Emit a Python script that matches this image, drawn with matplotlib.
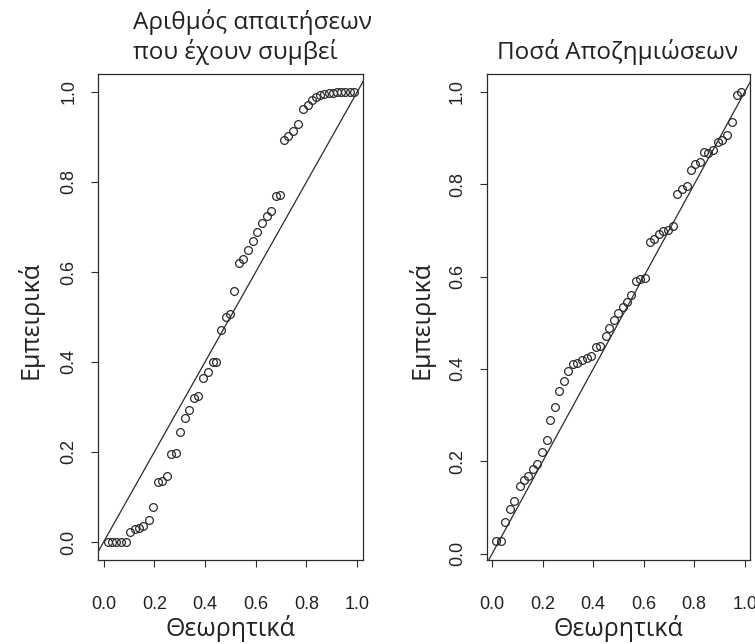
import matplotlib
matplotlib.use("Agg")
import matplotlib.pyplot as plt
from matplotlib import font_manager

avail = {f.name for f in font_manager.fontManager.ttflist}
text_font = ["Open Sans", "DejaVu Sans"]
tick_font = [f for f in ["Liberation Sans Narrow", "Liberation Sans", "DejaVu Sans"] if f in avail] or ["DejaVu Sans"]

# Left panel: number of claims
claims_theor = [0.017, 0.034, 0.050, 0.067, 0.087, 0.105, 0.123, 0.140, 0.156, 0.178,
                0.195, 0.215, 0.232, 0.250, 0.267, 0.285, 0.300, 0.320, 0.337, 0.357,
                0.373, 0.393, 0.410, 0.430, 0.445, 0.462, 0.482, 0.498, 0.515, 0.535,
                0.551, 0.570, 0.588, 0.606, 0.623, 0.643, 0.660, 0.680, 0.696, 0.711,
                0.729, 0.746, 0.766, 0.788, 0.805, 0.821, 0.838, 0.854, 0.871, 0.887,
                0.904, 0.920, 0.937, 0.953, 0.970, 0.986]
claims_emp = [0.000, 0.000, 0.000, 0.000, 0.000, 0.023, 0.028, 0.032, 0.036, 0.050,
              0.078, 0.134, 0.136, 0.147, 0.196, 0.198, 0.244, 0.275, 0.293, 0.319,
              0.324, 0.365, 0.377, 0.400, 0.400, 0.471, 0.500, 0.506, 0.557, 0.619,
              0.628, 0.648, 0.670, 0.689, 0.710, 0.725, 0.735, 0.768, 0.772, 0.893,
              0.903, 0.913, 0.930, 0.962, 0.972, 0.982, 0.990, 0.994, 0.996, 0.997,
              0.998, 0.999, 1.000, 1.000, 1.000, 1.000]

# Right panel: compensation amounts
amount_theor = [0.014, 0.034, 0.051, 0.070, 0.087, 0.108, 0.126, 0.143, 0.160, 0.178,
                0.197, 0.215, 0.230, 0.250, 0.266, 0.286, 0.302, 0.320, 0.337, 0.356,
                0.375, 0.392, 0.411, 0.428, 0.449, 0.464, 0.483, 0.500, 0.517, 0.533,
                0.549, 0.568, 0.585, 0.605, 0.624, 0.642, 0.660, 0.678, 0.697, 0.717,
                0.733, 0.751, 0.770, 0.786, 0.803, 0.821, 0.839, 0.856, 0.874, 0.893,
                0.912, 0.931, 0.950, 0.968, 0.986]
amount_emp = [0.027, 0.027, 0.069, 0.096, 0.114, 0.147, 0.160, 0.168, 0.184, 0.195,
              0.219, 0.246, 0.289, 0.318, 0.352, 0.374, 0.395, 0.411, 0.413, 0.420,
              0.424, 0.428, 0.447, 0.450, 0.471, 0.489, 0.507, 0.521, 0.534, 0.546,
              0.561, 0.591, 0.595, 0.597, 0.675, 0.681, 0.693, 0.699, 0.702, 0.710,
              0.780, 0.790, 0.796, 0.831, 0.845, 0.848, 0.869, 0.868, 0.874, 0.892,
              0.896, 0.907, 0.936, 0.994, 1.000]

ticks = [0.0, 0.2, 0.4, 0.6, 0.8, 1.0]
tick_labels = ["0.0", "0.2", "0.4", "0.6", "0.8", "1.0"]

xlabel = "Θεωρητικά"
ylabel = "Εμπειρικά"
title_left = "Αριθμός απαιτήσεων\nπου έχουν συμβεί"
title_right = "Ποσά Αποζημιώσεων"

W, H = 755, 644
fig = plt.figure(figsize=(W / 100, H / 100), dpi=100)

def px_axes(x0, x1, y0, y1):
    return fig.add_axes([x0 / W, 1 - y1 / H, (x1 - x0) / W, (y1 - y0) / H])

ax1 = px_axes(98, 363.5, 74, 560)
ax2 = px_axes(486.7, 750, 74, 560)

ink = "#2b2b2b"
panels = [
    (ax1, claims_theor, claims_emp, (-0.022, 1.025), (-0.04, 1.04)),
    (ax2, amount_theor, amount_emp, (-0.022, 1.021), (-0.014, 1.039)),
]
for ax, xs, ys, xl, yl in panels:
    ax.plot(xs, ys, linestyle="none", marker="o", markersize=5.6,
            markerfacecolor="none", markeredgecolor=ink, markeredgewidth=0.9)
    ax.axline((0, 0), (1, 1), color=ink, linewidth=0.9)
    ax.set_xlim(*xl)
    ax.set_ylim(*yl)
    ax.set_xticks(ticks)
    ax.set_yticks(ticks)
    ax.set_xticklabels(tick_labels, family=tick_font, fontsize=13, color="#222222")
    ax.set_yticklabels(tick_labels, family=tick_font, fontsize=13, color="#222222",
                       rotation=90, va="center")
    ax.tick_params(axis="x", direction="out", length=5, width=0.8, color=ink, pad=21)
    ax.tick_params(axis="y", direction="out", length=5, width=0.8, color=ink, pad=10)
    for s in ax.spines.values():
        s.set_linewidth(0.9)
        s.set_color(ink)

for cx in (230, 618):
    fig.text(cx / W, 1 - 628 / H, xlabel, family=text_font, fontsize=18,
             ha="center", va="center", color="#222222")
for cx in (30, 421):
    fig.text(cx / W, 1 - 320 / H, ylabel, family=text_font, fontsize=18,
             ha="center", va="center", rotation=90, color="#222222")

fig.text(133 / W, 1 - 37 / H, title_left, family=text_font, fontsize=17.5,
         ha="left", va="center", linespacing=1.2, color="#222222")
fig.text(497 / W, 1 - 52 / H, title_right, family=text_font, fontsize=17.5,
         ha="left", va="center", color="#222222")

fig.savefig("out.png", dpi=100)
